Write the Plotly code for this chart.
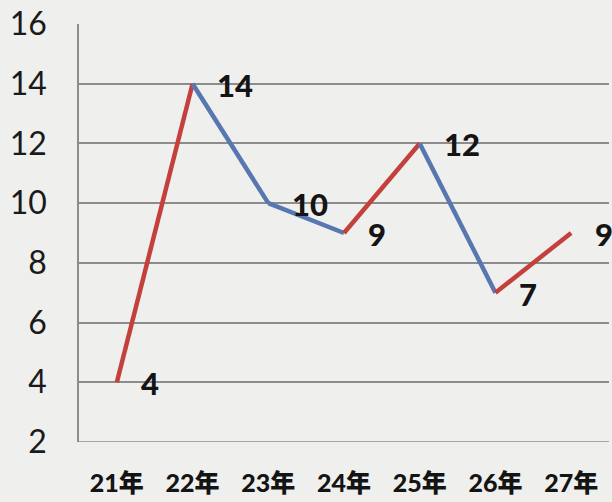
import plotly.graph_objects as go

# Yearly values
years = ["21年", "22年", "23年", "24年", "25年", "26年", "27年"]
values = [4, 14, 10, 9, 12, 7, 9]

# Axis ticks
y_ticks = [2, 4, 6, 8, 10, 12, 14, 16]

RISE = "#c4403c"
FALL = "#5877b0"
BG = "#efefed"
GRID = "#8c8c8c"

fig = go.Figure()

# One segment per step: red when rising, blue when falling
for i in range(len(values) - 1):
    color = RISE if values[i + 1] >= values[i] else FALL
    fig.add_trace(go.Scatter(
        x=[years[i], years[i + 1]],
        y=[values[i], values[i + 1]],
        mode="lines",
        line=dict(color=color, width=4.5),
        hoverinfo="skip",
        showlegend=False,
    ))

# Value labels to the right of each point
for yr, v in zip(years, values):
    fig.add_annotation(
        x=yr, y=v, text=str(v), showarrow=False,
        xanchor="left", yanchor="middle", xshift=22, yshift=-1,
        font=dict(family="Lato, Liberation Sans, sans-serif", size=31, color="#141414", weight=900),
    )

fig.update_layout(
    width=612, height=502,
    margin=dict(l=79, r=3, t=24, b=60, autoexpand=False),
    paper_bgcolor=BG, plot_bgcolor=BG,
    xaxis=dict(
        type="category", categoryorder="array", categoryarray=years,
        range=[-0.5, len(years) - 0.5], automargin=False,
        showgrid=False, zeroline=False, showline=False,
        ticks="", ticklabelstandoff=24,
        tickfont=dict(family="Lato, Noto Sans CJK SC, sans-serif", size=25, color="#141414", weight=900),
    ),
    yaxis=dict(
        range=[2, 16], tickvals=y_ticks, automargin=False,
        showgrid=True, gridcolor=GRID, gridwidth=1.5,
        zeroline=False, showline=True, linecolor=GRID, linewidth=1.5,
        ticks="", ticklabelstandoff=24,
        tickfont=dict(family="Lato, Liberation Sans, sans-serif", size=32, color="#1a1a1a"),
    ),
)

# Bottom axis line at y = 2
fig.add_shape(type="line", xref="paper", yref="y", x0=0, x1=1, y0=2, y1=2,
              line=dict(color=GRID, width=1.5), layer="below")

fig.write_html("out.html")
